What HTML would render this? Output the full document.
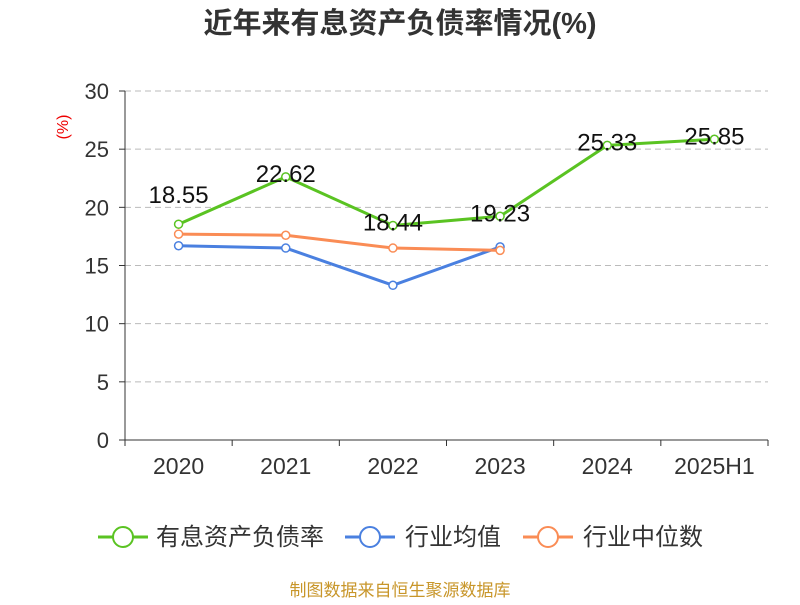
<!DOCTYPE html>
<html><head><meta charset="utf-8"><style>
body{margin:0;background:#fff;font-family:"Liberation Sans","Noto Sans CJK SC",sans-serif}
</style></head><body>
<svg id="c" width="800" height="600" xmlns="http://www.w3.org/2000/svg" font-family="Liberation Sans, Noto Sans CJK SC, sans-serif">
<text x="400" y="33" text-anchor="middle" font-size="29" font-weight="bold" fill="#333">近年来有息资产负债率情况(%)</text>
<text transform="translate(68,127) rotate(-90)" text-anchor="middle" font-size="16" fill="#e00">(%)</text>
<g id="grid"></g><g id="axes"></g><g id="series"></g>
<g>
<g><line x1="98" y1="537" x2="148" y2="537" stroke="#5ac322" stroke-width="3"/><circle cx="123" cy="537" r="10" fill="#fff" stroke="#5ac322" stroke-width="2"/><text x="156" y="545" font-size="24" fill="#333">有息资产负债率</text></g>
<g><line x1="345" y1="537" x2="395" y2="537" stroke="#4a80e0" stroke-width="3"/><circle cx="370" cy="537" r="10" fill="#fff" stroke="#4a80e0" stroke-width="2"/><text x="405" y="545" font-size="24" fill="#333">行业均值</text></g>
<g><line x1="523" y1="537" x2="573" y2="537" stroke="#fa8c55" stroke-width="3"/><circle cx="548" cy="537" r="10" fill="#fff" stroke="#fa8c55" stroke-width="2"/><text x="583" y="545" font-size="24" fill="#333">行业中位数</text></g>
</g>
<text x="400" y="596" text-anchor="middle" font-size="17" fill="#c8962a">制图数据来自恒生聚源数据库</text>
</svg>
<script>
const categories=["2020","2021","2022","2023","2024","2025H1"];
const rateValues=[18.55,22.62,18.44,19.23,25.33,25.85];
const avgValues=[16.7,16.5,13.3,16.6];
const medianValues=[17.7,17.6,16.5,16.3];
const yTicks=[0,5,10,15,20,25,30];
const NS="http://www.w3.org/2000/svg";
const L=125,R=768,T=91,B=440,bw=(R-L)/categories.length;
const xs=i=>L+bw*(i+0.5), ys=v=>B-(v/30)*(B-T);
function mk(p,tag,a){const e=document.createElementNS(NS,tag);for(const k in a)e.setAttribute(k,a[k]);p.appendChild(e);return e;}
const g=document.getElementById('grid'),ax=document.getElementById('axes'),s=document.getElementById('series');
yTicks.forEach(t=>{
 if(t>0){const l=mk(g,'line',{x1:L,x2:R,y1:ys(t),y2:ys(t),stroke:'#bbb','stroke-dasharray':'6,4'});
 
 }
 mk(ax,'line',{x1:L-6,x2:L,y1:ys(t),y2:ys(t),stroke:'#333'});
 const tx=mk(ax,'text',{x:L-16,y:ys(t)+8,'text-anchor':'end','font-size':22,fill:'#333'});tx.textContent=t;
 
 
});
mk(ax,'line',{x1:L,x2:L,y1:T,y2:B,stroke:'#333'});
mk(ax,'line',{x1:L,x2:R,y1:B,y2:B,stroke:'#333'});
for(let i=0;i<=categories.length;i++)mk(ax,'line',{x1:L+bw*i,x2:L+bw*i,y1:B,y2:B+6,stroke:'#333'});
categories.forEach((c,i)=>{const tx=mk(ax,'text',{x:xs(i),y:474,'text-anchor':'middle','font-size':23,fill:'#333'});tx.textContent=c;
 
 });
function series(vals,color,name,labels){
 const gg=mk(s,'g',{});
 
 
 mk(gg,'polyline',{points:vals.map((v,i)=>xs(i)+','+ys(v)).join(' '),fill:'none',stroke:color,'stroke-width':3});
 vals.forEach((v,i)=>{const c=mk(gg,'circle',{cx:xs(i),cy:ys(v),r:4,fill:'#fff',stroke:color,'stroke-width':1.5});
  
  
  if(labels){const dy=(i===0)?-21:5;
   const t=mk(gg,'text',{x:xs(i),y:ys(v)+dy,'text-anchor':'middle','font-size':24,fill:'#111'});t.textContent=v.toFixed(2);
   
   }
 });
}
series(avgValues,'#4a80e0','industry-average-line',false);
series(medianValues,'#fa8c55','industry-median-line',false);
series(rateValues,'#5ac322','debt-ratio-line',true);
</script>
</body></html>
